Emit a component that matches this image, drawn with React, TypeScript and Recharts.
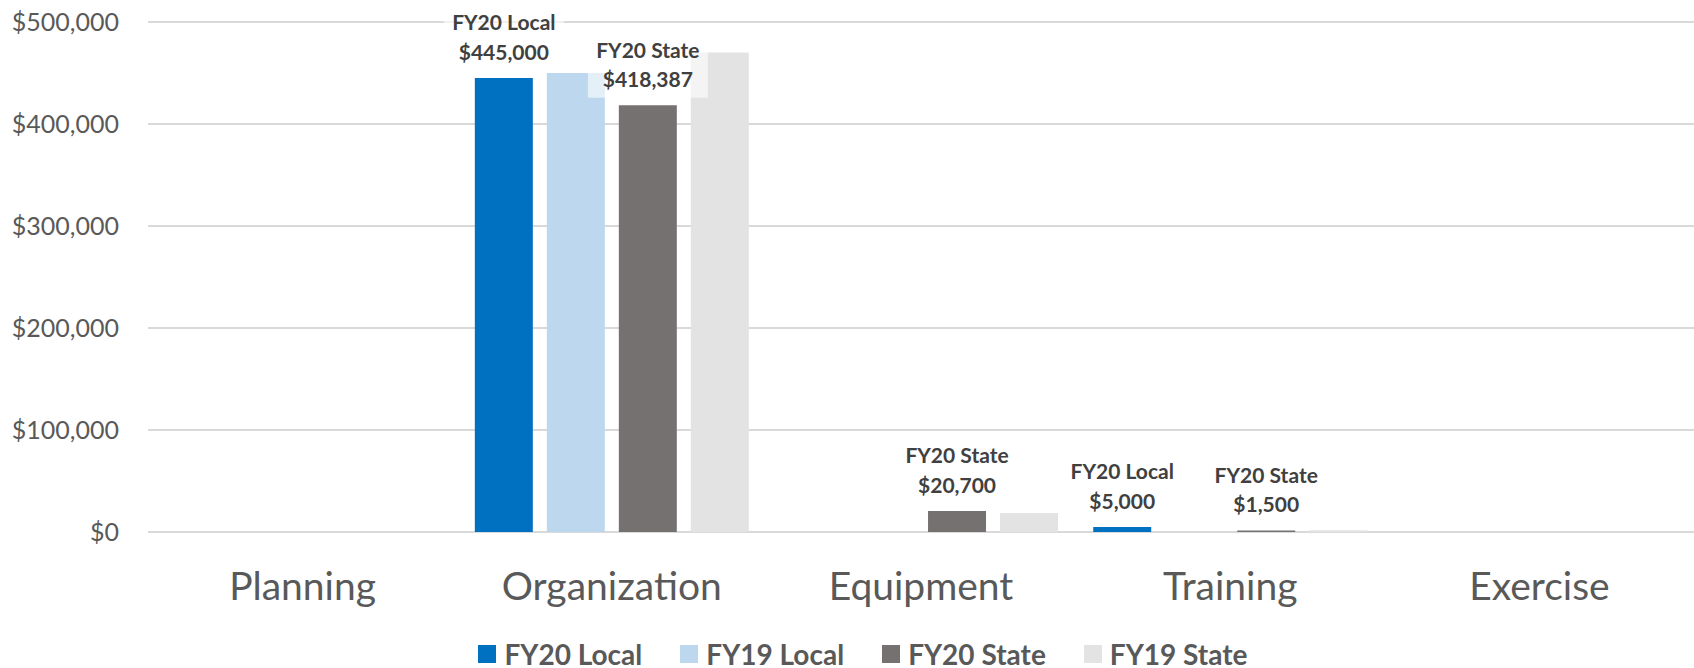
import { BarChart, Bar, XAxis, YAxis, CartesianGrid, Legend, LabelList } from "recharts";

const categories = ["Planning", "Organization", "Equipment", "Training", "Exercise"];
const fy20Local = [0, 445000, 0, 5000, 0];
const fy19Local = [0, 450000, 0, 0, 0];
const fy20State = [0, 418387, 20700, 1500, 0];
const fy19State = [0, 470000, 18600, 1700, 0];
const yTicks = [0, 100000, 200000, 300000, 400000, 500000];

const series = [
  { key: "fy20Local", name: "FY20 Local", color: "#0070C0", labeled: true },
  { key: "fy19Local", name: "FY19 Local", color: "#BDD7EE", labeled: false },
  { key: "fy20State", name: "FY20 State", color: "#767171", labeled: true },
  { key: "fy19State", name: "FY19 State", color: "#E3E3E3", labeled: false },
];

const data = categories.map((category, i) => ({
  category,
  fy20Local: fy20Local[i],
  fy19Local: fy19Local[i],
  fy20State: fy20State[i],
  fy19State: fy19State[i],
}));

const money = (v: number) => `$${v.toLocaleString("en-US")}`;

const FONT = "Lato, 'Open Sans', sans-serif";

// two-line label (series name + value) on a half-transparent white box
const makeLabel = (name: string) => (props: any) => {
  const { x, y, width, value } = props;
  if (!value) return null;
  const cx = x + width / 2;
  return (
    <g>
      <rect x={cx - 60} y={y - 71.5} width={120} height={64} fill="#fff" fillOpacity={0.6} />
      <text x={cx} y={y - 47.7} textAnchor="middle" fill="#404040" fontSize={21} fontWeight={700} fontFamily={FONT}>
        {name}
      </text>
      <text x={cx} y={y - 18} textAnchor="middle" fill="#404040" fontSize={21} fontWeight={700} fontFamily={FONT}>
        {money(value)}
      </text>
    </g>
  );
};

const CategoryTick = (props: any) => {
  const { x, y, payload } = props;
  return (
    <text x={x} y={y + 68} textAnchor="middle" fill="#595959" fontSize={39} fontFamily={FONT}>
      {payload.value}
    </text>
  );
};

const renderLegend = () => (
  <div style={{ display: "flex", justifyContent: "center", gap: 38, paddingLeft: 32, fontFamily: FONT }}>
    {series.map((s) => (
      <div key={s.key} style={{ display: "flex", alignItems: "center" }}>
        <span style={{ display: "inline-block", width: 18, height: 18, background: s.color, marginRight: 8 }} />
        <span style={{ fontSize: 28, lineHeight: "28px", fontWeight: 700, color: "#595959" }}>{s.name}</span>
      </div>
    ))}
  </div>
);

export default function App() {
  return (
    <div style={{ position: "absolute", left: 0, top: 0, background: "#fff" }}>
      <BarChart
        width={1694}
        height={668}
        data={data}
        margin={{ top: 22, right: 0, bottom: 0, left: 0 }}
        barGap={14}
        barCategoryGap="5.7%"
      >
        <CartesianGrid vertical={false} stroke="#d9d9d9" strokeWidth={2} />
        <XAxis
          dataKey="category"
          axisLine={false}
          tickLine={false}
          tickSize={0}
          tickMargin={0}
          height={136}
          tick={<CategoryTick />}
          interval={0}
        />
        <YAxis
          domain={[0, 500000]}
          ticks={yTicks}
          width={148}
          axisLine={false}
          tickLine={false}
          tickSize={0}
          tickMargin={29}
          tickFormatter={money}
          tick={{ fill: "#595959", fontSize: 25, fontFamily: FONT }}
        />
        <Legend
          layout="horizontal"
          verticalAlign="middle"
          align="center"
          content={renderLegend}
          wrapperStyle={{ left: 0, top: 640, width: 1694 }}
        />
        {series.map((s) => (
          <Bar key={s.key} dataKey={s.key} name={s.name} fill={s.color} isAnimationActive={false}>
            {s.labeled && <LabelList dataKey={s.key} content={makeLabel(s.name)} />}
          </Bar>
        ))}
      </BarChart>
    </div>
  );
}
